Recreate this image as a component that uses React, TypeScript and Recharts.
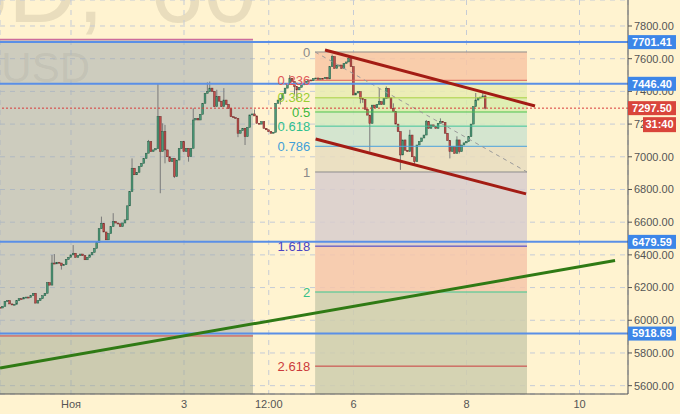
import { ComposedChart, Bar, XAxis, YAxis, CartesianGrid, ReferenceLine, ReferenceArea } from 'recharts';

// hourly candles, hour 0 = 1 Nov 00:00
const firstHour = -30;
const firstOpen = 6080;
const closes = [
  6075, 6085, 6115, 6120, 6100, 6095, 6098, 6120, 6132, 6130,
  6138, 6142, 6140, 6150, 6165, 6105, 6120, 6132, 6150, 6165,
  6230, 6215, 6350, 6345, 6355, 6350, 6335, 6340, 6372, 6385,
  6400, 6410, 6385, 6395, 6405, 6395, 6370, 6385, 6400, 6415,
  6440, 6475, 6560, 6593, 6540, 6492, 6530, 6573, 6604, 6595,
  6590, 6573, 6595, 6614, 6700, 6787, 6930, 6890, 6905, 6940,
  6960, 6990, 7022, 7093, 7032, 7042, 7050, 7246, 7032, 7154,
  7042, 7000, 6970, 6990, 6879, 6980, 7050, 7093, 7032, 7052,
  7001, 7052, 7225, 7235, 7225, 7260, 7327, 7388, 7399, 7420,
  7400, 7307, 7368, 7340, 7307, 7347, 7320, 7296, 7245, 7240,
  7235, 7144, 7160, 7174, 7123, 7180, 7256, 7262, 7250, 7205,
  7200, 7215, 7174, 7165, 7154, 7144, 7150, 7327, 7347, 7358,
  7388, 7420, 7449, 7480, 7460, 7429, 7409, 7425, 7440, 7450,
  7462, 7470, 7465, 7478, 7482, 7474, 7480, 7478, 7485, 7476,
  7551, 7612, 7541, 7560, 7561, 7541, 7571, 7580, 7600, 7551,
  7378, 7390, 7398, 7357, 7350, 7290, 7255, 7204, 7316, 7300,
  7320, 7337, 7320, 7357, 7418, 7360, 7297, 7277, 7200, 7154,
  7011, 7103, 7040, 7032, 7133, 7000, 6970, 7072, 7093, 7115,
  7133, 7215, 7174, 7195, 7185, 7174, 7205, 7215, 7210, 7144,
  7100, 7032, 7062, 7021, 7103, 7032, 7072, 7085, 7093, 7123,
  7200, 7307, 7347, 7360, 7365, 7372, 7297.5,
];
// wicks that stick out of the body (by hour)
const wickHighs: Record<number, number> = {
  [-8]: 6400, [-7]: 6405, 1: 6460, 13: 6634, 18: 6655, 26: 6990, 33: 7103, 37: 7445,
  39: 7205, 40: 7195, 52: 7297, 58: 7455, 59: 7460, 62: 7410, 65: 7420, 78: 7290,
  93: 7500, 111: 7625, 118: 7610, 131: 7418, 134: 7430, 137: 7327, 144: 7165,
  151: 7225, 157: 7235, 164: 7125, 172: 7390, 175: 7390, 176: 7380,
};
const wickLows: Record<number, number> = {
  [-4]: 6310, 38: 6777, 40: 6960, 44: 6870, 50: 6970, 71: 7120, 74: 7072, 89: 7320,
  95: 7380, 96: 7350, 123: 7327, 124: 7330, 127: 7031, 140: 6920, 146: 6950,
  161: 6990, 165: 7020, 176: 7290,
};

const hourDomain = [-30.16, 236.6];
const priceDomain = [5549, 7959];
const xTicks = [0, 48, 84, 120, 168, 216];
const xTickLabels = ['Ноя', '3', '12:00', '6', '8', '10'];
const yTicks = [5600, 5800, 6000, 6200, 6400, 6600, 6800, 7000, 7200, 7400, 7600, 7800];

const levels = [7701.41, 7446.4, 6479.59, 5918.69];
const lastPrice = 7297.5;
const countdown = '31:40';

// fibonacci retracement
const fibStart = 103.7;
const fibEnd = 193.7;
const fibTop = 7641;
const fibBottom = 6907;
const fibRatios = [0, 0.236, 0.382, 0.5, 0.618, 0.786, 1, 1.618, 2, 2.618];
const fibNames = ['0', '0.236', '0.382', '0.5', '0.618', '0.786', '1', '1.618', '2', '2.618'];
const fibLineColors = ['#8c8c8c', '#e0605c', '#a8d040', '#4cc24c', '#3ec29a', '#4aa2dc', '#8c8c8c', '#3a36c8', '#3cc890', '#c83c3c'];
const fibLabelColors = ['#8a8a8a', '#e05a5a', '#9acd32', '#3cb83c', '#2fbf8f', '#3f9fd8', '#8a8a8a', '#4a44c4', '#36c08a', '#cc3b3b'];
const fibZoneColors = ['#f8c6a4', '#e9ebb2', '#d9ecae', '#d2e9c2', '#cde2cf', '#e7dcc0', '#d8ccce', '#f6c6aa', '#cecdae', '#cecdae'];

// drawn tools
const upperChannel = [{ x: 107.9, y: 7653 }, { x: 197.1, y: 7311 }];
const lowerChannel = [{ x: 103.9, y: 7109 }, { x: 193.3, y: 6773 }];
const greenTrend = [{ x: -30.16, y: 5708 }, { x: 231.1, y: 6365 }];
const greyBox = { x1: -30.16, x2: 77.3, top: 7718, bottom: 5904 };

const candles = closes.map((c, i) => {
  const h = firstHour + i;
  const o = i === 0 ? firstOpen : closes[i - 1];
  const hi = Math.max(wickHighs[h] ?? 0, o, c);
  const lo = Math.min(wickLows[h] ?? 99999, o, c);
  return { h, o, c, hi, lo, range: [lo, hi] };
});

const fibPrice = (r: number) => fibTop - r * (fibTop - fibBottom);

const Candle = (props: any) => {
  const { x, y, width, height, payload } = props;
  if (x == null || payload == null) return null;
  const top = Math.min(y, y + height);
  const h = Math.abs(height);
  const cx = x + width / 2;
  const span = payload.hi - payload.lo || 1;
  const py = (v: number) => top + ((payload.hi - v) / span) * h;
  const up = payload.c >= payload.o;
  const b1 = py(Math.max(payload.o, payload.c));
  const b2 = py(Math.min(payload.o, payload.c));
  return (
    <g>
      <line x1={cx} x2={cx} y1={top} y2={top + h} stroke="#7a7a7a" strokeWidth={1} />
      <rect
        x={cx - 0.9}
        y={b1}
        width={1.8}
        height={Math.max(b2 - b1, 1)}
        fill={up ? '#4a9a78' : '#c24d4a'}
        stroke={up ? '#2c5e48' : '#6e2b2a'}
        strokeWidth={0.5}
      />
    </g>
  );
};

const PriceTag = ({ viewBox, text, bg }: any) => {
  if (!viewBox) return null;
  const left = viewBox.x + viewBox.width;
  return (
    <g>
      <rect x={left} y={viewBox.y - 7} width={48} height={14} fill={bg} />
      <text x={left + 24} y={viewBox.y} dy="0.35em" textAnchor="middle" fill="#fff" fontSize={11} fontWeight="bold">
        {text}
      </text>
    </g>
  );
};

const LastPriceTag = ({ viewBox }: any) => {
  if (!viewBox) return null;
  const left = viewBox.x + viewBox.width;
  return (
    <g>
      <rect x={left} y={viewBox.y - 7} width={48} height={14} fill="#d9453b" />
      <text x={left + 24} y={viewBox.y} dy="0.35em" textAnchor="middle" fill="#fff" fontSize={11} fontWeight="bold">
        {lastPrice.toFixed(2)}
      </text>
      <rect x={left + 15} y={viewBox.y + 9} width={33} height={15} fill="#d9453b" />
      <text x={left + 31.5} y={viewBox.y + 16.5} dy="0.35em" textAnchor="middle" fill="#fff" fontSize={11} fontWeight="bold">
        {countdown}
      </text>
    </g>
  );
};

const chartMargin = { top: 0, right: 0, bottom: 0, left: 0 };
const fontStyle = { fontFamily: 'Liberation Sans, Arial, sans-serif' };

export default function App() {
  return (
    <div style={{ position: 'fixed', left: 0, top: 0, width: 680, height: 414, background: '#fff3d0', overflow: 'hidden' }}>
      <svg width={680} height={414} style={{ position: 'absolute', left: 0, top: 0 }}>
        <g fill="#6e6450" fillOpacity={0.15} fontFamily="Liberation Sans, Arial, sans-serif">
          <text x={104} y={22} fontSize={96} textAnchor="end">BTCUSD,</text>
          <text x={150} y={22} fontSize={96}>60</text>
          <text x={90} y={82} fontSize={42} textAnchor="end">BTC / USD</text>
        </g>
      </svg>
      <div style={{ position: 'absolute', left: 0, top: 0 }}>
        <ComposedChart width={680} height={414} data={candles} margin={chartMargin} style={fontStyle}>
          <CartesianGrid stroke="#c5cbd6" strokeDasharray="5 5" />
          <XAxis
            dataKey="h"
            type="number"
            domain={hourDomain}
            allowDataOverflow
            ticks={xTicks}
            interval={0}
            tickFormatter={(v: number) => xTickLabels[xTicks.indexOf(v)] ?? ''}
            height={20}
            tickLine={false}
            tickSize={4}
            tickMargin={2}
            axisLine={{ stroke: '#555' }}
            tick={{ fill: '#555', fontSize: 11 }}
          />
          <YAxis
            orientation="right"
            type="number"
            domain={priceDomain}
            allowDataOverflow
            ticks={yTicks}
            interval={0}
            width={52}
            tickSize={4}
            tickMargin={2}
            tickFormatter={(v: number) => v.toFixed(2)}
            axisLine={{ stroke: '#555' }}
            tickLine={{ stroke: '#555' }}
            tick={{ fill: '#555', fontSize: 11 }}
          />

          <ReferenceArea x1={greyBox.x1} x2={greyBox.x2} y1={greyBox.bottom} y2={greyBox.top} fill="#9ba5ac" fillOpacity={0.5} stroke="none" ifOverflow="visible" />
          <ReferenceArea x1={greyBox.x1} x2={greyBox.x2} y1={priceDomain[0]} y2={greyBox.bottom} fill="#99a390" fillOpacity={0.5} stroke="none" ifOverflow="visible" />

          {fibRatios.map((r, i) => (
            <ReferenceArea
              key={'z' + i}
              x1={fibStart}
              x2={fibEnd}
              y1={i < fibRatios.length - 1 ? fibPrice(fibRatios[i + 1]) : priceDomain[0]}
              y2={fibPrice(r)}
              fill={fibZoneColors[i]}
              fillOpacity={0.85}
              stroke="none"
              ifOverflow="visible"
            />
          ))}
          {fibRatios.map((r, i) => (
            <ReferenceLine
              key={'f' + i}
              segment={[{ x: fibStart, y: fibPrice(r) }, { x: fibEnd, y: fibPrice(r) }]}
              stroke={fibLineColors[i]}
              strokeWidth={1}
              ifOverflow="visible"
              label={{ value: fibNames[i], position: 'left', offset: 5, fill: fibLabelColors[i], fontSize: 13 }}
            />
          ))}
          <ReferenceLine
            segment={[{ x: fibStart, y: fibTop }, { x: fibEnd, y: fibBottom }]}
            stroke="#9a9a9a"
            strokeDasharray="4 4"
            ifOverflow="visible"
          />

          <Bar dataKey="range" barSize={2} shape={(p: any) => <Candle {...p} />} isAnimationActive={false} />

          <ReferenceLine segment={[{ x: greyBox.x1, y: greyBox.top }, { x: greyBox.x2, y: greyBox.top }]} stroke="#cc6c9c" strokeWidth={1.5} ifOverflow="visible" />
          <ReferenceLine segment={[{ x: greyBox.x1, y: greyBox.bottom }, { x: greyBox.x2, y: greyBox.bottom }]} stroke="#d04444" strokeWidth={1} ifOverflow="visible" />

          {levels.map((v) => (
            <ReferenceLine key={v} y={v} stroke="#5a8fe6" strokeWidth={2} />
          ))}
          <ReferenceLine y={lastPrice} stroke="#d83a3a" strokeDasharray="2 2" strokeWidth={1} />

          <ReferenceLine segment={upperChannel} stroke="#a31c14" strokeWidth={3} ifOverflow="visible" />
          <ReferenceLine segment={lowerChannel} stroke="#a31c14" strokeWidth={3} ifOverflow="visible" />
          <ReferenceLine segment={greenTrend} stroke="#2f7a14" strokeWidth={3} ifOverflow="visible" />
        </ComposedChart>
      </div>
      {/* price tags drawn on a second layer so they sit above the axis labels */}
      <div style={{ position: 'absolute', left: 0, top: 0 }}>
        <ComposedChart width={680} height={414} data={candles} margin={chartMargin} style={fontStyle}>
          <XAxis dataKey="h" type="number" domain={hourDomain} allowDataOverflow height={20} tick={false} tickLine={false} axisLine={false} />
          <YAxis orientation="right" type="number" domain={priceDomain} allowDataOverflow width={52} tick={false} tickLine={false} axisLine={false} />
          {levels.map((v) => (
            <ReferenceLine
              key={v}
              y={v}
              stroke="none"
              label={(p: any) => <PriceTag viewBox={p.viewBox} text={v.toFixed(2)} bg="#3d86e8" />}
            />
          ))}
          <ReferenceLine y={lastPrice} stroke="none" label={(p: any) => <LastPriceTag viewBox={p.viewBox} />} />
        </ComposedChart>
      </div>
    </div>
  );
}
